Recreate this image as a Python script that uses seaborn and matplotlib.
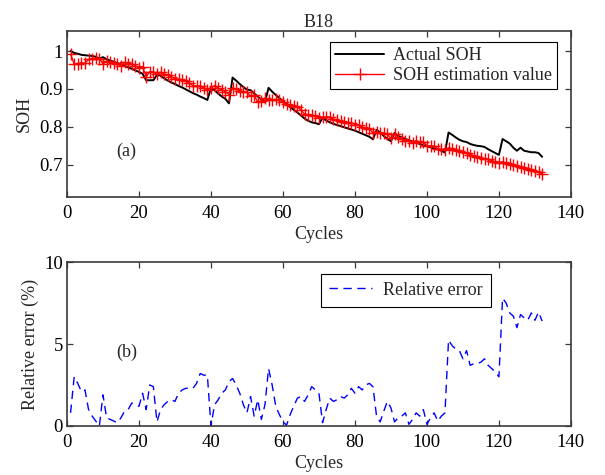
import numpy as np
import pandas as pd
import matplotlib
matplotlib.use("Agg")
import matplotlib.pyplot as plt
import seaborn as sns

cycles = list(range(1, 133))

actual_soh = [
    1.000, 0.995, 0.993, 0.990, 0.989, 0.988, 0.987, 0.985, 0.980, 0.984,
    0.978, 0.975, 0.972, 0.968, 0.965, 0.961, 0.957, 0.953, 0.949, 0.945,
    0.940, 0.923, 0.923, 0.923, 0.937, 0.935, 0.928, 0.922, 0.917, 0.913,
    0.908, 0.904, 0.899, 0.894, 0.889, 0.885, 0.880, 0.876, 0.871, 0.903,
    0.897, 0.888, 0.880, 0.874, 0.862, 0.930, 0.922, 0.913, 0.905, 0.898,
    0.897, 0.888, 0.880, 0.872, 0.865, 0.903, 0.893, 0.884, 0.876, 0.868,
    0.860, 0.852, 0.845, 0.838, 0.830, 0.822, 0.816, 0.812, 0.810, 0.807,
    0.824, 0.817, 0.812, 0.808, 0.805, 0.802, 0.799, 0.796, 0.793, 0.790,
    0.786, 0.782, 0.778, 0.774, 0.767, 0.792, 0.785, 0.776, 0.768, 0.762,
    0.784, 0.776, 0.772, 0.768, 0.765, 0.761, 0.758, 0.755, 0.752, 0.749,
    0.746, 0.743, 0.740, 0.737, 0.732, 0.785, 0.779, 0.772, 0.766, 0.762,
    0.760, 0.755, 0.752, 0.750, 0.749, 0.747, 0.741, 0.736, 0.731, 0.726,
    0.768, 0.762, 0.756, 0.745, 0.737, 0.745, 0.737, 0.735, 0.733, 0.733,
    0.731, 0.721,
]

estimated_soh = [
    0.992, 0.966, 0.967, 0.969, 0.968, 0.978, 0.980, 0.982, 0.980, 0.966,
    0.973, 0.971, 0.969, 0.966, 0.960, 0.970, 0.967, 0.966, 0.961, 0.956,
    0.959, 0.932, 0.946, 0.945, 0.939, 0.944, 0.940, 0.936, 0.932, 0.927,
    0.926, 0.924, 0.920, 0.915, 0.909, 0.908, 0.908, 0.903, 0.898, 0.903,
    0.909, 0.902, 0.898, 0.893, 0.885, 0.903, 0.899, 0.895, 0.893, 0.891,
    0.881, 0.883, 0.866, 0.868, 0.876, 0.871, 0.871, 0.873, 0.870, 0.866,
    0.860, 0.858, 0.855, 0.852, 0.845, 0.834, 0.832, 0.831, 0.828, 0.823,
    0.825, 0.826, 0.826, 0.820, 0.818, 0.816, 0.813, 0.811, 0.811, 0.806,
    0.805, 0.799, 0.797, 0.794, 0.785, 0.787, 0.783, 0.783, 0.780, 0.770,
    0.782, 0.772, 0.767, 0.762, 0.764, 0.758, 0.764, 0.760, 0.760, 0.750,
    0.750, 0.749, 0.742, 0.741, 0.738, 0.745, 0.742, 0.739, 0.736, 0.733,
    0.730, 0.727, 0.724, 0.721, 0.719, 0.716, 0.714, 0.711, 0.708, 0.705,
    0.708, 0.705, 0.703, 0.700, 0.697, 0.695, 0.692, 0.689, 0.686, 0.683,
    0.680, 0.676,
]

relative_error = [
    0.8, 3.0, 2.6, 2.1, 2.2, 1.0, 0.6, 0.3, 0.0, 1.9,
    0.5, 0.4, 0.3, 0.2, 0.5, 0.9, 1.0, 1.4, 1.3, 1.2,
    2.0, 1.0, 2.5, 2.4, 0.25, 1.0, 1.3, 1.5, 1.6, 1.5,
    2.0, 2.2, 2.3, 2.3, 2.3, 2.6, 3.2, 3.1, 3.1, 0.0,
    1.3, 1.6, 2.0, 2.2, 2.7, 2.9, 2.5, 2.0, 1.3, 0.8,
    1.8, 0.6, 1.6, 0.4, 1.3, 3.5, 2.5, 1.2, 0.7, 0.25,
    0.05, 0.7, 1.2, 1.7, 1.8, 1.5, 1.9, 2.4, 2.2, 2.0,
    0.2, 1.0, 1.7, 1.5, 1.6, 1.8, 1.7, 1.9, 2.3, 2.0,
    2.4, 2.2, 2.5, 2.6, 2.4, 0.6, 0.25, 0.9, 1.5, 1.1,
    0.25, 0.5, 0.6, 0.8, 0.1, 0.4, 0.8, 0.6, 1.0, 0.1,
    0.5, 0.8, 0.3, 0.6, 0.8, 5.25, 4.9, 4.7, 4.6, 4.1,
    4.6, 3.7, 3.8, 3.8, 3.9, 4.1, 3.7, 3.5, 3.3, 3.0,
    7.8, 7.5, 6.9, 6.7, 6.0, 6.8, 6.6, 6.45, 6.9, 6.45,
    6.95, 6.4,
]

x_ticks = [0, 20, 40, 60, 80, 100, 120, 140]
soh_ticks = [0.7, 0.8, 0.9, 1.0]
soh_tick_labels = ["0.7", "0.8", "0.9", "1"]
err_ticks = [0, 5, 10]

df = pd.DataFrame({"Cycles": cycles, "Actual": actual_soh,
                   "Estimated": estimated_soh, "Error": relative_error})

sns.set_style("white")
plt.rcParams["font.family"] = ["Liberation Serif", "DejaVu Serif"]

fig = plt.figure(figsize=(6.05, 4.75), dpi=100)
ax1 = fig.add_axes([0.1107, 0.5853, 0.833, 0.3495])
ax2 = fig.add_axes([0.1107, 0.1032, 0.833, 0.345])

spine_col = "#3a3a3a"
FS = 13
TFS = 13.5

sns.lineplot(data=df, x="Cycles", y="Actual", ax=ax1, color="black",
             linewidth=1.4, label="Actual SOH")
sns.lineplot(data=df, x="Cycles", y="Estimated", ax=ax1, color="red",
             linewidth=1.0, marker="+", markersize=9, markeredgewidth=1.0,
             markeredgecolor="red", markerfacecolor="red",
             label="SOH estimation value")
sns.lineplot(data=df, x="Cycles", y="Error", ax=ax2, color="#0000ff",
             linewidth=1.0, linestyle=(0, (6, 4)), label="Relative error")

for ax in (ax1, ax2):
    ax.set_xlim(0, 140)
    ax.set_xticks(x_ticks)
    ax.tick_params(direction="in", length=4, width=0.9, colors=spine_col,
                   labelcolor="black", labelsize=TFS, top=True, right=True,
                   bottom=True, left=True)
    ax.tick_params(axis="x", pad=6)
    ax.tick_params(axis="y", pad=3)
    for s in ax.spines.values():
        s.set_color(spine_col)
        s.set_linewidth(1.2)
    ax.set_xlabel("Cycles", fontsize=FS, labelpad=3)

ax1.set_ylim(0.615, 1.053)
ax1.set_yticks(soh_ticks)
ax1.set_yticklabels(soh_tick_labels)
ax1.set_ylabel("SOH", fontsize=FS, labelpad=5)
ax1.set_title("B18", fontsize=FS, pad=3)
ax1.text(16.5, 0.735, "(a)", fontsize=FS, ha="center", va="center")

ax2.set_ylim(0, 10)
ax2.set_yticks(err_ticks)
ax2.set_ylabel("Relative error (%)", fontsize=FS, labelpad=4)
ax2.text(16.5, 4.5, "(b)", fontsize=FS, ha="center", va="center")

leg1 = ax1.legend(loc="upper right", bbox_to_anchor=(0.973, 0.935),
                  fontsize=FS, frameon=True, fancybox=False, framealpha=1,
                  edgecolor="black", handlelength=2.7, borderpad=0.3,
                  labelspacing=0.15, handletextpad=0.5, borderaxespad=0)
leg1.get_frame().set_linewidth(0.8)
leg2 = ax2.legend(loc="upper left", bbox_to_anchor=(0.504, 0.93),
                  fontsize=FS, frameon=True, fancybox=False, framealpha=1,
                  edgecolor="black", handlelength=2.4, borderpad=0.45,
                  handletextpad=0.6, borderaxespad=0)
leg2.get_frame().set_linewidth(0.8)

fig.savefig("out.png", dpi=100, facecolor="white")
